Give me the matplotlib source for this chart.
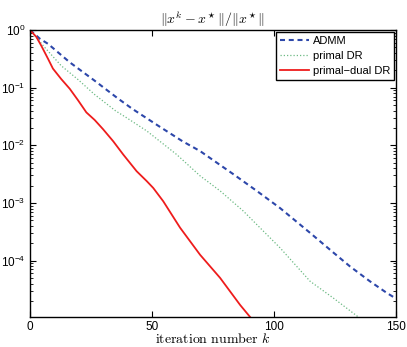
import matplotlib
matplotlib.use('Agg')
import numpy as np
import matplotlib.pyplot as plt
from matplotlib.ticker import LogLocator, NullFormatter, FuncFormatter

# data (iteration k, relative error)
k_admm = [0, 4, 7.4, 16.3, 26.5, 36.1, 42, 52.5, 62.5, 69.7, 76.5, 83.3, 92.9, 102.5,
          114.8, 124.3, 131.1, 139.3, 146.2, 150]
err_admm = [1.0, 0.708, 0.575, 0.275, 0.132, 0.0646, 0.0427, 0.0219, 0.01175, 0.00794,
            0.00501, 0.00316, 0.00162, 8.13e-4, 3.02e-4, 1.38e-4, 7.94e-5, 4.37e-5,
            2.75e-5, 2.19e-5]

k_pdr = [0, 6, 12.8, 19.7, 26.5, 35, 39.5, 47.8, 60.1, 69.7, 77.9, 87.4, 102.5, 114.8,
         124.3, 135.2]
err_pdr = [1.0, 0.501, 0.240, 0.138, 0.0759, 0.0398, 0.0302, 0.0178, 0.00692, 0.00295,
           0.00162, 7.24e-4, 1.66e-4, 4.37e-5, 2.24e-5, 1.0e-5]

k_pddr = [0, 2.6, 4.6, 7.4, 9.4, 12.8, 16.3, 19.7, 23.1, 26.5, 29.9, 34.1, 38.2, 43.7,
          47.8, 50.5, 54.6, 61.5, 69.7, 77.9, 86.1, 91]
err_pddr = [1.0, 0.759, 0.537, 0.316, 0.214, 0.141, 0.0955, 0.0603, 0.0372, 0.0275,
            0.0191, 0.01175, 0.00692, 0.00355, 0.0024, 0.00182, 0.00107, 3.72e-4,
            1.26e-4, 5.01e-5, 1.70e-5, 9.55e-6]

plt.rcParams['font.family'] = ['Liberation Sans', 'DejaVu Sans']
plt.rcParams['mathtext.fontset'] = 'cm'

fig = plt.figure(figsize=(4.07, 3.47), dpi=100)
ax = fig.add_axes([0.0737, 0.0865, 0.8993, 0.827])

ax.semilogy(k_admm, err_admm, color='#2d47aa', linestyle=(0, (2.4, 1.8)), linewidth=1.5, label='ADMM')
ax.semilogy(k_pdr, err_pdr, color='#6dba84', linestyle=(0, (1, 1.6)), linewidth=0.9, label='primal DR')
ax.semilogy(k_pddr, err_pddr, color='#ee1c1c', linewidth=1.3, label='primal\u2212dual DR')

ax.set_xlim(0, 150)
ax.set_ylim(1.05e-5, 1)
ax.set_xticks([0, 50, 100, 150])
ax.yaxis.set_major_locator(LogLocator(base=10, numticks=10))
ax.yaxis.set_major_formatter(FuncFormatter(
    lambda v, p: r'$\mathregular{10^{%d}}$' % int(np.round(np.log10(v)))))
ax.yaxis.set_minor_locator(LogLocator(base=10, subs=range(2, 10), numticks=20))
ax.yaxis.set_minor_formatter(NullFormatter())
ax.tick_params(which='both', direction='in', top=True, right=True, labelsize=8.5)
ax.tick_params(which='major', length=4, width=0.8)
ax.tick_params(which='minor', length=2, width=0.6)
ax.tick_params(axis='x', pad=3)
for s in ax.spines.values():
    s.set_linewidth(1.0)

ax.set_title(r'$\|x^k - x^\star\|/\|x^\star\|$', fontsize=10, pad=4)
ax.set_xlabel(r'$\mathrm{iteration\ number}\ k$', fontsize=10, labelpad=-1)

leg = ax.legend(loc='upper right', fontsize=8, handlelength=2.6, handletextpad=0.3,
                borderpad=0.35, labelspacing=0.45, fancybox=False, framealpha=1,
                borderaxespad=0.2)
leg.get_frame().set_edgecolor('black')
leg.get_frame().set_linewidth(1.0)

fig.savefig('out.png', dpi=100)
